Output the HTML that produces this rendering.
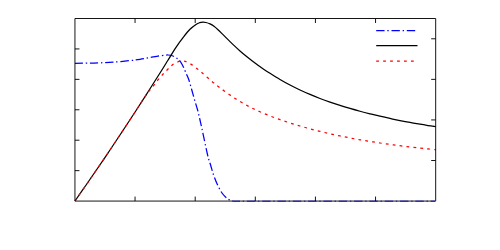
<!DOCTYPE html>
<html><head><meta charset="utf-8"><title>plot</title>
<style>
html,body{margin:0;padding:0;background:#fff;width:500px;height:250px;overflow:hidden;font-family:"Liberation Sans",sans-serif;}
svg{display:block}
</style></head><body>
<svg width="500" height="250" viewBox="0 0 500 250">
<rect width="500" height="250" fill="#fff"/>
<g fill="none" stroke-linecap="butt" stroke-linejoin="round">
<path d="M75.00,63.30 C77.50,63.27 85.83,63.18 90.00,63.10 C94.17,63.02 96.17,62.95 100.00,62.80 C103.83,62.65 108.00,62.57 113.00,62.20 C118.00,61.83 125.50,61.07 130.00,60.60 C134.50,60.13 136.67,59.90 140.00,59.40 C143.33,58.90 146.67,58.20 150.00,57.60 C153.33,57.00 157.00,56.23 160.00,55.80 C163.00,55.37 165.83,54.97 168.00,55.00 C170.17,55.03 171.45,55.40 173.00,56.00 C174.55,56.60 176.07,57.67 177.30,58.60 C178.53,59.53 179.38,60.20 180.40,61.60 C181.42,63.00 182.40,64.93 183.40,67.00 C184.40,69.07 185.48,71.83 186.40,74.00 C187.32,76.17 188.00,77.33 188.90,80.00 C189.80,82.67 190.85,86.67 191.80,90.00 C192.75,93.33 193.63,96.67 194.60,100.00 C195.57,103.33 196.70,106.67 197.60,110.00 C198.50,113.33 199.27,116.83 200.00,120.00 C200.73,123.17 200.73,123.17 202.00,129.00 C203.27,134.83 206.17,149.00 207.60,155.00 C209.03,161.00 209.60,161.67 210.60,165.00 C211.60,168.33 212.43,171.67 213.60,175.00 C214.77,178.33 216.20,182.00 217.60,185.00 C219.00,188.00 220.50,190.83 222.00,193.00 C223.50,195.17 225.43,196.90 226.60,198.00 C227.77,199.10 228.18,199.17 229.00,199.60 C229.82,200.03 230.67,200.33 231.50,200.55 C232.33,200.78 233.08,200.86 234.00,200.95 C234.92,201.04 236.00,201.05 237.00,201.07 C238.00,201.09 239.50,201.07 240.00,201.07" stroke="#0000ff" stroke-width="1.25" stroke-dasharray="8.35 2.78 1.39 2.78" stroke-dashoffset="0.4"/>
<path d="M376.2,30.5H417.5" stroke="#0000ff" stroke-width="1.25" stroke-dasharray="8.35 2.78 1.39 2.78"/>
<path d="M75.00,201.00 C76.85,198.33 82.53,190.17 86.10,185.00 C89.67,179.83 92.42,175.83 96.40,170.00 C100.38,164.17 105.52,156.67 110.00,150.00 C114.48,143.33 118.90,136.67 123.30,130.00 C127.70,123.33 132.08,116.67 136.40,110.00 C140.72,103.33 144.95,96.67 149.20,90.00 C153.45,83.33 158.75,75.00 161.90,70.00 C165.05,65.00 165.75,63.78 168.10,60.00 C170.45,56.22 173.35,51.23 176.00,47.30 C178.65,43.37 181.67,39.40 184.00,36.40 C186.33,33.40 188.00,31.28 190.00,29.30 C192.00,27.32 194.40,25.60 196.00,24.50 C197.60,23.40 198.47,23.10 199.60,22.70 C200.73,22.30 201.73,22.13 202.80,22.10 C203.87,22.07 204.80,22.20 206.00,22.50 C207.20,22.80 208.67,23.27 210.00,23.90 C211.33,24.53 212.67,25.33 214.00,26.30 C215.33,27.27 216.67,28.48 218.00,29.70 C219.33,30.92 220.67,32.28 222.00,33.60 C223.33,34.92 224.67,36.27 226.00,37.60 C227.33,38.93 228.50,40.13 230.00,41.60 C231.50,43.07 233.33,44.83 235.00,46.40 C236.67,47.97 238.17,49.38 240.00,51.00 C241.83,52.62 244.00,54.47 246.00,56.10 C248.00,57.73 250.00,59.28 252.00,60.80 C254.00,62.32 256.00,63.77 258.00,65.20 C260.00,66.63 262.00,68.04 264.00,69.40 C266.00,70.76 267.33,71.66 270.00,73.34 C272.67,75.03 276.67,77.56 280.00,79.51 C283.33,81.46 286.67,83.30 290.00,85.05 C293.33,86.80 296.67,88.44 300.00,90.01 C303.33,91.58 306.67,93.04 310.00,94.45 C313.33,95.86 316.67,97.19 320.00,98.46 C323.33,99.73 326.67,100.93 330.00,102.09 C333.33,103.25 336.67,104.34 340.00,105.40 C343.33,106.46 346.67,107.46 350.00,108.43 C353.33,109.40 356.67,110.33 360.00,111.23 C363.33,112.13 366.67,112.98 370.00,113.81 C373.33,114.64 376.67,115.44 380.00,116.22 C383.33,117.00 386.67,117.74 390.00,118.46 C393.33,119.18 396.67,119.88 400.00,120.55 C403.33,121.22 406.67,121.87 410.00,122.48 C413.33,123.09 417.00,123.73 420.00,124.24 C423.00,124.75 425.39,125.12 428.00,125.52 C430.61,125.92 434.40,126.45 435.68,126.64" stroke="#000" stroke-width="1.25"/>
<path d="M376.2,45.65H417.5" stroke="#000" stroke-width="1.25"/>
<path d="M75.00,201.00 C76.85,198.33 82.53,190.17 86.10,185.00 C89.67,179.83 92.42,175.83 96.40,170.00 C100.38,164.17 105.52,156.67 110.00,150.00 C114.48,143.33 118.90,136.67 123.30,130.00 C127.70,123.33 132.68,115.70 136.40,110.00 C140.12,104.30 143.43,99.02 145.60,95.80 C147.77,92.58 148.00,92.47 149.40,90.70 C150.80,88.93 152.53,87.03 154.00,85.20 C155.47,83.37 156.77,81.47 158.20,79.70 C159.63,77.93 161.20,76.13 162.60,74.60 C164.00,73.07 165.32,71.80 166.60,70.50 C167.88,69.20 169.07,67.93 170.30,66.80 C171.53,65.67 172.38,64.63 174.00,63.70 C175.62,62.77 178.33,61.63 180.00,61.20 C181.67,60.77 182.33,60.70 184.00,61.10 C185.67,61.50 188.00,62.48 190.00,63.60 C192.00,64.72 194.00,66.27 196.00,67.80 C198.00,69.33 200.00,71.10 202.00,72.80 C204.00,74.50 206.00,76.28 208.00,78.00 C210.00,79.72 212.00,81.47 214.00,83.10 C216.00,84.73 217.67,86.03 220.00,87.80 C222.33,89.57 225.33,91.83 228.00,93.70 C230.67,95.57 233.33,97.32 236.00,99.00 C238.67,100.68 241.33,102.28 244.00,103.80 C246.67,105.31 249.33,106.76 252.00,108.09 C254.67,109.42 257.00,110.48 260.00,111.79 C263.00,113.10 266.67,114.62 270.00,115.93 C273.33,117.24 276.67,118.45 280.00,119.62 C283.33,120.79 286.67,121.90 290.00,122.97 C293.33,124.04 296.67,125.04 300.00,126.02 C303.33,127.00 306.67,127.93 310.00,128.83 C313.33,129.73 316.67,130.58 320.00,131.40 C323.33,132.22 326.67,133.01 330.00,133.77 C333.33,134.53 336.67,135.25 340.00,135.94 C343.33,136.63 346.67,137.30 350.00,137.94 C353.33,138.58 356.67,139.19 360.00,139.77 C363.33,140.36 366.67,140.91 370.00,141.45 C373.33,141.99 376.67,142.50 380.00,143.00 C383.33,143.50 386.67,143.96 390.00,144.42 C393.33,144.88 396.67,145.31 400.00,145.73 C403.33,146.15 406.67,146.56 410.00,146.95 C413.33,147.34 417.00,147.75 420.00,148.08 C423.00,148.41 425.39,148.66 428.00,148.93 C430.61,149.20 434.40,149.57 435.68,149.70" stroke="#ff0000" stroke-width="1.25" stroke-dasharray="2.775 4.16"/>
<path d="M376.2,61H417.5" stroke="#ff0000" stroke-width="1.25" stroke-dasharray="2.78 4.17"/>
<path d="M74.94,18.5H435.68V201.07H74.94Z" stroke="#000" stroke-width="0.92" stroke-linejoin="miter"/>
<path d="M232.6,200.5H435.2" stroke="rgb(105,105,172)" stroke-width="1" stroke-dasharray="8.356 2.785 1.393 2.785" stroke-dashoffset="1.04"/>
<path d="M232.6,201.5H435.2" stroke="rgb(52,52,124)" stroke-width="1" stroke-dasharray="8.356 2.785 1.393 2.785" stroke-dashoffset="1.04"/>
<path d="M135.06,201.07V196.57 M135.06,18.50V23.00 M195.19,201.07V196.57 M195.19,18.50V23.00 M255.31,201.07V196.57 M255.31,18.50V23.00 M315.43,201.07V196.57 M315.43,18.50V23.00 M375.56,201.07V196.57 M375.56,18.50V23.00 M74.94,170.64H79.44 M74.94,140.21H79.44 M74.94,109.78H79.44 M74.94,79.36H79.44 M74.94,48.93H79.44 M435.68,160.50H431.18 M435.68,119.93H431.18 M435.68,79.36H431.18 M435.68,38.79H431.18 " stroke="#000" stroke-width="0.92"/>
</g>
</svg>
</body></html>
